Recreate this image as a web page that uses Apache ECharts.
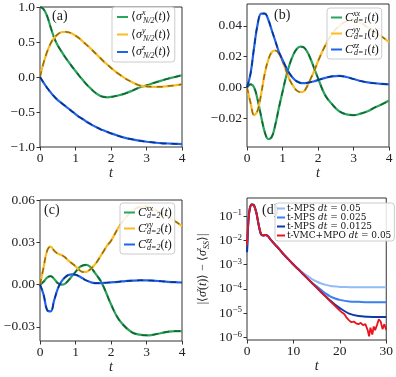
<!DOCTYPE html>
<html>
<head>
<meta charset="utf-8">
<script src="https://cdn.jsdelivr.net/npm/echarts@6/dist/echarts.min.js"></script>
<style>
html, body { margin: 0; padding: 0; background: #fff; }
#main { width: 396px; height: 377px; }
</style>
</head>
<body>
<div id="main"></div>
<script>
// time grid shared by panels (a)-(c)
const tA = [0, 0.1, 0.2, 0.3, 0.4, 0.5, 0.6, 0.7, 0.8, 0.9, 1.0, 1.1, 1.2, 1.3, 1.4, 1.5, 1.6, 1.7, 1.8, 1.9,
            2.0, 2.2, 2.4, 2.6, 2.8, 3.0, 3.2, 3.4, 3.6, 3.8, 4.0];

// (a) single-site magnetisation
const sigX = [1.0, 0.97, 0.87, 0.71, 0.56, 0.45, 0.37, 0.29, 0.22, 0.15, 0.085, 0.02, -0.04, -0.10, -0.15, -0.20, -0.24, -0.27, -0.285, -0.29,
              -0.285, -0.265, -0.235, -0.195, -0.15, -0.12, -0.085, -0.055, -0.025, 0.0, 0.025];
const sigY = [0, 0.2, 0.36, 0.48, 0.56, 0.61, 0.64, 0.645, 0.64, 0.62, 0.59, 0.555, 0.51, 0.465, 0.42, 0.37, 0.32, 0.27, 0.22, 0.175,
              0.13, 0.05, -0.02, -0.075, -0.12, -0.135, -0.14, -0.14, -0.13, -0.12, -0.105];
const sigZ = [0, -0.08, -0.155, -0.22, -0.28, -0.33, -0.37, -0.41, -0.45, -0.49, -0.53, -0.57, -0.6, -0.635, -0.665, -0.695, -0.72, -0.745, -0.765, -0.785,
              -0.805, -0.84, -0.87, -0.89, -0.91, -0.925, -0.935, -0.945, -0.95, -0.955, -0.96];

// (b) correlations d=1
const c1xx = [0, 0.002, 0.0, -0.008, -0.019, -0.029, -0.0335, -0.032, -0.024, -0.013, -0.003, 0.007, 0.015, 0.021, 0.025, 0.0265, 0.026, 0.023, 0.018, 0.012,
              0.006, -0.005, -0.011, -0.0155, -0.0175, -0.018, -0.017, -0.0155, -0.013, -0.011, -0.0085];
const c1yy = [0, -0.01, -0.018, -0.015, -0.004, 0.009, 0.018, 0.023, 0.024, 0.022, 0.017, 0.011, 0.005, 0.001, -0.002, -0.003, -0.0025, 0.001, 0.006, 0.011,
              0.017, 0.027, 0.035, 0.04, 0.043, 0.0435, 0.042, 0.039, 0.036, 0.033, 0.0295];
const c1zz = [0, 0.009, 0.026, 0.041, 0.048, 0.048, 0.044, 0.037, 0.03, 0.023, 0.018, 0.013, 0.009, 0.006, 0.004, 0.003, 0.0028, 0.003, 0.0035, 0.004,
              0.0048, 0.0062, 0.0072, 0.0075, 0.0068, 0.0055, 0.0042, 0.0033, 0.0027, 0.0023, 0.002];

// (c) correlations d=2
const c2xx = [0, 0.002, 0.005, 0.006, 0.004, 0.001, 0.0, 0.0005, 0.003, 0.006, 0.009, 0.012, 0.0135, 0.014, 0.013, 0.01, 0.0065, 0.003, -0.002, -0.008,
              -0.014, -0.024, -0.03, -0.034, -0.0355, -0.036, -0.0355, -0.0345, -0.0335, -0.033, -0.033];
const c2yy = [0, 0.012, 0.024, 0.027, 0.024, 0.022, 0.021, 0.0195, 0.017, 0.015, 0.013, 0.0105, 0.009, 0.009, 0.0105, 0.013, 0.016, 0.02, 0.024, 0.028,
              0.031, 0.04, 0.047, 0.052, 0.055, 0.0553, 0.0535, 0.051, 0.048, 0.045, 0.0415];
const c2zz = [0, -0.007, -0.018, -0.019, -0.011, -0.003, 0.002, 0.005, 0.0068, 0.0073, 0.007, 0.006, 0.0045, 0.003, 0.002, 0.0012, 0.001, 0.001, 0.0012, 0.0014,
              0.0016, 0.002, 0.0025, 0.0028, 0.003, 0.003, 0.0028, 0.0024, 0.002, 0.0017, 0.0015];

// (d) distance to steady state
const tD = [0, 0.3, 0.6, 1, 1.5, 2, 2.5, 3, 3.5, 4, 4.5, 5, 6, 7, 8, 9, 10, 11, 12, 13, 14, 15, 16, 17, 18, 19, 20, 22, 24, 26, 28, 30];
const mps05 = [3.2e-3, 0.063, 0.2, 0.295, 0.275, 0.141, 0.0447, 0.0178, 0.0158, 0.0166, 0.0148, 0.0112, 6.8e-3, 4.2e-3, 2.5e-3, 1.6e-3, 1.0e-3,
               6.8e-4, 4.7e-4, 3.4e-4, 2.5e-4, 2.0e-4, 1.66e-4, 1.45e-4, 1.32e-4, 1.26e-4, 1.2e-4, 1.17e-4, 1.15e-4, 1.15e-4, 1.15e-4, 1.15e-4];
const mps025 = [3.2e-3, 0.063, 0.2, 0.295, 0.275, 0.141, 0.0447, 0.0178, 0.0158, 0.0166, 0.0148, 0.0112, 6.8e-3, 4.2e-3, 2.5e-3, 1.6e-3, 1.0e-3,
                6.5e-4, 4.2e-4, 2.7e-4, 1.74e-4, 1.26e-4, 8.9e-5, 6.3e-5, 4.8e-5, 4.0e-5, 3.5e-5, 3.0e-5, 2.9e-5, 2.8e-5, 2.8e-5, 2.8e-5];
const mps0125 = [3.2e-3, 0.063, 0.2, 0.295, 0.275, 0.141, 0.0447, 0.0178, 0.0158, 0.0166, 0.0148, 0.0112, 6.8e-3, 4.2e-3, 2.5e-3, 1.6e-3, 1.0e-3,
                 6.5e-4, 4.2e-4, 2.7e-4, 1.74e-4, 1.12e-4, 7.2e-5, 4.8e-5, 3.2e-5, 2.2e-5, 1.6e-5, 9.5e-6, 7.6e-6, 7.1e-6, 6.9e-6, 6.9e-6];
const tR = [0, 0.3, 0.6, 1, 1.5, 2, 2.5, 3, 3.5, 4, 4.5, 5, 6, 7, 8, 9, 10, 11, 12, 13, 14, 15, 16, 17, 18, 19, 20,
            20.5, 21, 21.5, 22, 22.5, 23, 23.5, 24, 24.5, 25, 25.5, 26, 26.3, 26.6, 27, 27.3, 27.6, 28, 28.4, 28.8, 29.2, 29.6, 30];
const vmc = [6e-3, 0.07, 0.21, 0.3, 0.28, 0.141, 0.0447, 0.0178, 0.0158, 0.0166, 0.0148, 0.0112, 6.8e-3, 4.2e-3, 2.5e-3, 1.6e-3, 1.0e-3,
             6.5e-4, 4.2e-4, 2.7e-4, 1.74e-4, 1.12e-4, 7.2e-5, 4.7e-5, 3.0e-5, 1.95e-5, 1.26e-5,
             1.05e-5, 8.9e-6, 6.3e-6, 5.0e-6, 4.2e-6, 4.5e-6, 3.8e-6, 3.5e-6, 4.0e-6, 3.2e-6, 3.5e-6, 2.0e-6, 1.1e-6, 2.5e-6,
             1.3e-6, 2.8e-6, 2.0e-6, 3.2e-6, 5.6e-6, 4.5e-6, 2.2e-6, 3.5e-6, 2.0e-6];

const SERIF = 'Liberation Serif';
const GREEN = '#27a55b', YELLOW = '#fbbc23', BLUE = '#1f63ee';
const GREEN_D = '#1b5e36', YELLOW_D = '#8f6c16', BLUE_D = '#0c327f';

function pairs(ts, vs) { return ts.map(function (t, i) { return [t, vs[i]]; }); }
function minus(s) { return s.replace('-', '\u2212'); }

const frame = { show: true, borderColor: '#333', borderWidth: 1, backgroundColor: '#fff' };

function xAx(i, max, interval) {
    return {
        type: 'value', gridIndex: i, min: 0, max: max, interval: interval,
        axisLine: { show: false, onZero: false },
        axisTick: { show: true, length: 3.5, lineStyle: { color: '#333', width: 1 } },
        axisLabel: { fontFamily: SERIF, fontSize: 13.5, color: '#222', margin: 4 },
        splitLine: { show: false },
        name: 't', nameLocation: 'middle', nameGap: 19,
        nameTextStyle: { fontFamily: SERIF, fontStyle: 'italic', fontSize: 14, color: '#222' }
    };
}

function yAx(i, min, max, ticks, digits) {
    return {
        type: 'value', gridIndex: i, min: min, max: max,
        axisLine: { show: false, onZero: false },
        axisTick: { show: true, length: 3.5, customValues: ticks, lineStyle: { color: '#333', width: 1 } },
        axisLabel: {
            fontFamily: SERIF, fontSize: 13.5, color: '#222', margin: 5, customValues: ticks,
            formatter: function (v) { return minus(v.toFixed(digits)); }
        },
        splitLine: { show: false }
    };
}

// math-like rich styles: main text, italic, superscript (zero advance) and subscript
function mathRich(size, lh, color) {
    return {
        m: { fontFamily: SERIF, fontSize: size, lineHeight: lh, color: color },
        v: { fontFamily: SERIF, fontStyle: 'italic', fontSize: size, lineHeight: lh, color: color },
        p: { fontFamily: SERIF, fontStyle: 'italic', fontSize: 8, lineHeight: 7, verticalAlign: 'top', width: 1, color: color },
        s: { fontFamily: SERIF, fontStyle: 'italic', fontSize: 8, lineHeight: 7, verticalAlign: 'bottom', color: color }
    };
}

const legNames = {
    sx: '{m|\u27e8}{v|\u03c3}{p|x}{s|N/2}{m|(}{v|t}{m|)\u27e9}',
    sy: '{m|\u27e8}{v|\u03c3}{p|y}{s|N/2}{m|(}{v|t}{m|)\u27e9}',
    sz: '{m|\u27e8}{v|\u03c3}{p|z}{s|N/2}{m|(}{v|t}{m|)\u27e9}',
    c1xx: '{v|C}{p|xx}{s|d=1}{m|(}{v|t}{m|)}',
    c1yy: '{v|C}{p|yy}{s|d=1}{m|(}{v|t}{m|)}',
    c1zz: '{v|C}{p|zz}{s|d=1}{m|(}{v|t}{m|)}',
    c2xx: '{v|C}{p|xx}{s|d=2}{m|(}{v|t}{m|)}',
    c2yy: '{v|C}{p|yy}{s|d=2}{m|(}{v|t}{m|)}',
    c2zz: '{v|C}{p|zz}{s|d=2}{m|(}{v|t}{m|)}',
    m05: '{n|t-MPS }{i|dt}{n| = 0.05}',
    m025: '{n|t-MPS }{i|dt}{n| = 0.025}',
    m0125: '{n|t-MPS }{i|dt}{n| = 0.0125}',
    vmc: '{n|t-VMC+MPO }{i|dt}{n| = 0.05}'
};

function legend(left, top, data, lh, gap, pad) {
    return {
        orient: 'vertical', left: left, top: top, data: data,
        icon: 'rect', itemWidth: 11, itemHeight: 2, itemGap: gap, padding: pad,
        backgroundColor: 'rgba(255,255,255,0.85)', borderColor: '#ccc', borderWidth: 1, borderRadius: 3,
        selectedMode: false,
        formatter: function (n) { return legNames[n]; },
        textStyle: { rich: mathRich(12, lh, '#111'), padding: [0, 0, 0, -2] }
    };
}

// solid curve plus dark dashed overlay
function curve(name, i, ts, vs, color, dark) {
    return [
        { type: 'line', name: name, xAxisIndex: i, yAxisIndex: i, data: pairs(ts, vs), smooth: 0.4,
          symbol: 'none', itemStyle: { color: color }, lineStyle: { color: color, width: 2.2 } },
        { type: 'line', name: name + '_d', xAxisIndex: i, yAxisIndex: i, data: pairs(ts, vs), smooth: 0.4,
          symbol: 'none', silent: true, lineStyle: { color: dark, width: 1.5, type: [6, 5] } }
    ];
}

function logLine(name, ts, vs, color, width, smooth) {
    return { type: 'line', name: name, xAxisIndex: 3, yAxisIndex: 3, data: pairs(ts, vs), smooth: smooth,
             symbol: 'none', itemStyle: { color: color }, lineStyle: { color: color, width: width } };
}

const series = [].concat(
    curve('sx', 0, tA, sigX, GREEN, GREEN_D),
    curve('sy', 0, tA, sigY, YELLOW, YELLOW_D),
    curve('sz', 0, tA, sigZ, BLUE, BLUE_D),
    curve('c1xx', 1, tA, c1xx, GREEN, GREEN_D),
    curve('c1yy', 1, tA, c1yy, YELLOW, YELLOW_D),
    curve('c1zz', 1, tA, c1zz, BLUE, BLUE_D),
    curve('c2xx', 2, tA, c2xx, GREEN, GREEN_D),
    curve('c2yy', 2, tA, c2yy, YELLOW, YELLOW_D),
    curve('c2zz', 2, tA, c2zz, BLUE, BLUE_D),
    [
        logLine('m05', tD, mps05, '#93bbf5', 2, 0.3),
        logLine('m025', tD, mps025, '#3b7ff0', 2, 0.3),
        logLine('m0125', tD, mps0125, '#0d3aa6', 2, 0.3),
        logLine('vmc', tR, vmc, '#e8141c', 1.8, false)
    ]
);

const legD = legend(275, 203, ['m05', 'm025', 'm0125', 'vmc'], 8.5, 0, [1, 3, 1, 2]);
legD.itemWidth = 8;
legD.textStyle = {
    padding: [0, 0, 0, -3],
    rich: {
        n: { fontFamily: 'DejaVu Serif', fontSize: 9, lineHeight: 8.5, color: '#111' },
        i: { fontFamily: 'DejaVu Serif', fontStyle: 'italic', fontSize: 9, lineHeight: 8.5, color: '#111' }
    }
};

const yD = {
    type: 'log', logBase: 10, gridIndex: 3, min: 7.8e-7, max: 0.55,
    axisLine: { show: false, onZero: false },
    axisTick: { show: true, length: 3.5, customValues: [1e-6, 1e-5, 1e-4, 1e-3, 1e-2, 1e-1], lineStyle: { color: '#333', width: 1 } },
    axisLabel: {
        margin: 5, customValues: [1e-6, 1e-5, 1e-4, 1e-3, 1e-2, 1e-1],
        formatter: function (v) { return '{b|10}{e|\u2212' + Math.round(-Math.log10(v)) + '}'; },
        rich: {
            b: { fontFamily: SERIF, fontSize: 13.5, lineHeight: 15, color: '#222' },
            e: { fontFamily: SERIF, fontSize: 9, lineHeight: 9, verticalAlign: 'top', color: '#222' }
        }
    },
    splitLine: { show: false },
    name: '{m||\u27e8}{v|\u03c3}{p|z}{m|(}{v|t}{m|)\u27e9 \u2212 \u27e8}{v|\u03c3}{p|z}{s|SS}{m|\u27e9|}',
    nameLocation: 'middle', nameRotate: 90, nameGap: 36,
    nameTextStyle: { rich: mathRich(12, 16, '#222') }
};

function tag(text, left, top) {
    return { type: 'text', left: left, top: top, z: 1,
             style: { text: text, fontFamily: SERIF, fontSize: 14, fill: '#222' } };
}

const option = {
    animation: false,
    backgroundColor: '#fff',
    grid: [
        Object.assign({ left: 40, top: 5, width: 142, height: 142 }, frame),
        Object.assign({ left: 247, top: 4, width: 142, height: 143 }, frame),
        Object.assign({ left: 40, top: 200, width: 142, height: 141 }, frame),
        Object.assign({ left: 247, top: 198, width: 142, height: 142 }, frame)
    ],
    xAxis: [xAx(0, 4, 1), xAx(1, 4, 1), xAx(2, 4, 1), xAx(3, 30, 10)],
    yAxis: [
        yAx(0, -1, 1, [-1, -0.5, 0, 0.5, 1], 1),
        yAx(1, -0.0387, 0.0542, [-0.02, 0, 0.02, 0.04], 2),
        yAx(2, -0.04, 0.06, [-0.03, 0, 0.03, 0.06], 2),
        yD
    ],
    legend: [
        legend(112, 7, ['sx', 'sy', 'sz'], 16, 1.5, [2, 4, 2, 5]),
        legend(327, 8, ['c1xx', 'c1yy', 'c1zz'], 15, 1, [2, 3, 2, 4]),
        legend(120, 203, ['c2xx', 'c2yy', 'c2zz'], 15, 1, [2, 3, 2, 4]),
        legD
    ],
    graphic: [tag('(a)', 52, 9), tag('(b)', 274, 8), tag('(c)', 44, 203), tag('(d)', 262, 203)],
    series: series
};

const myChart = echarts.init(document.getElementById('main'));
myChart.setOption(option);
</script>
</body>
</html>
